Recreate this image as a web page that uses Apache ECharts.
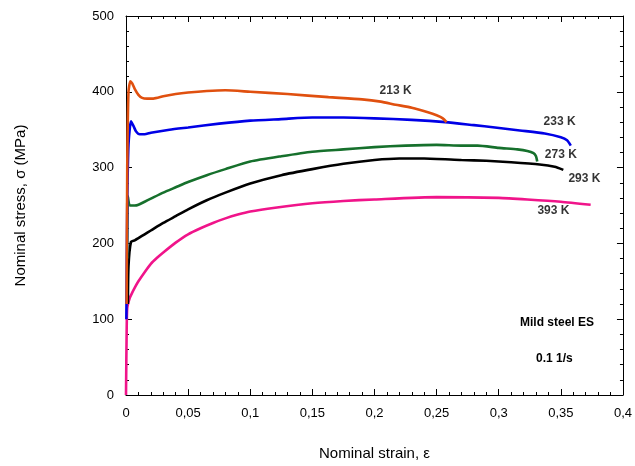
<!DOCTYPE html>
<html><head><meta charset="utf-8">
<script src="https://cdn.jsdelivr.net/npm/echarts@6/dist/echarts.min.js"></script>
<style>html,body{margin:0;padding:0;background:#fff}#c{width:635px;height:466px}</style>
</head><body><div id="c"></div>
<script>
var xTicks = ['0','0,05','0,1','0,15','0,2','0,25','0,3','0,35','0,4'];
var yTicks = ['0','100','200','300','400','500'];
var seriesNames = ['213 K','233 K','273 K','293 K','393 K'];
var s213 = [[0.0005,120],[0.001,300],[0.002,400],[0.0035,414],[0.005,411],[0.007,404],[0.01,396],[0.013,392],[0.017,391],[0.022,391],[0.03,394],[0.04,397],[0.05,399],[0.065,401],[0.08,402],[0.1,400],[0.13,397],[0.163,393],[0.19,390],[0.205,387],[0.217,383],[0.23,379],[0.243,373],[0.25,369],[0.255,365],[0.258,360]];
var s233 = [[0.0003,100],[0.001,250],[0.002,330],[0.004,361],[0.006,355],[0.008,348],[0.011,344],[0.015,344],[0.02,346],[0.035,350],[0.05,353],[0.075,358],[0.1,362],[0.125,364],[0.15,366],[0.175,366],[0.2,365],[0.23,363],[0.257,360],[0.28,356],[0.297,353],[0.317,349],[0.337,345],[0.35,340],[0.355,336],[0.358,329]];
var s273 = [[0.001,180],[0.0015,262],[0.003,250],[0.007,250],[0.01,251],[0.015,255],[0.02,259],[0.03,267],[0.04,274],[0.05,281],[0.065,290],[0.08,298],[0.1,308],[0.125,315],[0.15,321],[0.175,324],[0.2,327],[0.225,329],[0.25,330],[0.27,329],[0.283,329],[0.3,326],[0.315,324],[0.323,322],[0.328,319],[0.33,315],[0.331,308]];
var s293 = [[0.0015,120],[0.002,170],[0.004,202],[0.007,204],[0.01,207],[0.015,212],[0.02,217],[0.03,227],[0.04,236],[0.05,245],[0.065,257],[0.08,267],[0.1,279],[0.125,290],[0.15,298],[0.175,305],[0.2,310],[0.22,312],[0.24,312],[0.27,310],[0.29,309],[0.31,307],[0.333,304],[0.345,301],[0.352,297]];
var s393 = [[0,0],[0.0005,80],[0.001,115],[0.003,128],[0.005,135],[0.0075,143],[0.01,150],[0.015,162],[0.02,173],[0.025,181],[0.03,188],[0.04,201],[0.05,212],[0.06,220],[0.07,227],[0.08,233],[0.09,238],[0.1,242],[0.12,247],[0.15,253],[0.175,256],[0.2,258],[0.25,261],[0.3,260],[0.323,258],[0.35,255],[0.374,251]];
var colors = ['#e0500f','#0000e6','#16702c','#000000','#f0148a'];
var labels = [
  {name:'213 K', at:[0.217,402]},
  {name:'233 K', at:[0.349,360]},
  {name:'273 K', at:[0.35,317]},
  {name:'293 K', at:[0.369,286]},
  {name:'393 K', at:[0.344,243]}
];
var notes = ['Mild steel ES','0.1 1/s'];
var chart = echarts.init(document.getElementById('c'), null, {renderer:'canvas'});
var font = 'Liberation Sans, Arial, sans-serif';
function xAx(pos, show){
  return {type:'value', min:0, max:0.4, interval:0.05, position:pos,
    axisLine:{show:true, onZero:false, lineStyle:{color:'#000', width:1}},
    axisTick:{show:true, inside:true, length:6, lineStyle:{color:'#000'}},
    minorTick:{show:true, splitNumber:5, length:3, lineStyle:{color:'#000'}},
    splitLine:{show:false},
    axisLabel:{show:show, color:'#000', fontSize:13, fontFamily:font, margin:12,
      formatter:function(v){return String(+v.toFixed(2)).replace('.',',');}},
    name: show ? 'Nominal strain, ε' : '', nameLocation:'middle', nameGap:51,
    nameTextStyle:{color:'#000', fontSize:15, fontFamily:font}};
}
function yAx(pos, show){
  return {type:'value', min:0, max:500, interval:100, position:pos,
    axisLine:{show:true, onZero:false, lineStyle:{color:'#000', width:1}},
    axisTick:{show:true, inside:true, length:6, lineStyle:{color:'#000'}},
    minorTick:{show:true, splitNumber:5, length:3, lineStyle:{color:'#000'}},
    splitLine:{show:false},
    axisLabel:{show:show, color:'#000', fontSize:13, fontFamily:font, margin:12},
    name: show ? 'Nominal stress, σ (MPa)' : '', nameLocation:'middle', nameGap:98,
    nameTextStyle:{color:'#000', fontSize:15, fontFamily:font}};
}
var data = [s213,s233,s273,s293,s393];
var series = data.map(function(d,i){
  return {name:seriesNames[i], type:'line', data:d, showSymbol:false, smooth:0.2,
    lineStyle:{color:colors[i], width:2.6}, xAxisIndex:0, yAxisIndex:0, z:10-i};
});
series.push({type:'scatter', symbolSize:0, data:labels.map(function(l){return {value:l.at, name:l.name};}),
  label:{show:true, position:'inside', formatter:'{b}', color:'#000', fontSize:12, fontWeight:'bold', fontFamily:font},
  xAxisIndex:0, yAxisIndex:0, silent:true});
chart.setOption({
  animation:false,
  backgroundColor:'#fff',
  grid:{left:126, right:9, top:16, bottom:68},
  xAxis:[xAx('bottom', true), xAx('top', false)],
  yAxis:[yAx('left', true), yAx('right', false)],
  graphic:[
    {type:'text', left:520, top:317, style:{text:notes[0], fill:'#000', font:'bold 12px '+font}},
    {type:'text', left:536, top:353, style:{text:notes[1], fill:'#000', font:'bold 12px '+font}}
  ],
  series:series
});
</script></body></html>
